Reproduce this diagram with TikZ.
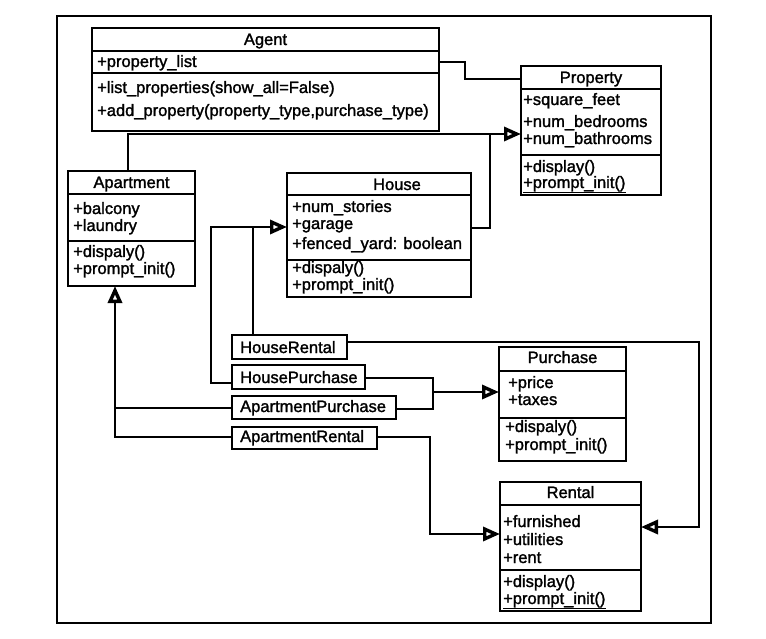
\documentclass[tikz,border=0pt]{standalone}
\usepackage{fontspec}
\setmainfont{Liberation Sans}
\newfontfamily\umlfont{Liberation Sans}[FakeBold=1.6]
\usetikzlibrary{arrows.meta}
\begin{document}
\begin{tikzpicture}[x=1pt,y=-1pt,
  umlbox/.style={draw,line width=1.7pt,inner sep=0pt,outer sep=0pt,anchor=north west},
  divider/.style={line width=1.7pt},
  txt/.style={anchor=base west,inner sep=0pt,font=\umlfont\fontsize{16.5}{18}\selectfont},
  ttl/.style={anchor=base,inner sep=0pt,font=\umlfont\fontsize{16.5}{18}\selectfont},
  conn/.style={line width=1.7pt},
  gentip/.tip={Triangle[open,length=17pt,width=14pt,line width=3.4pt]},
  gen/.style={conn,-gentip},
  uline/.style={line width=1.1pt}
]
\useasboundingbox (0,0) rectangle (766,639);
% frame
\node[umlbox,minimum width=654pt,minimum height=607pt] (frame) at (57,16) {};

% Agent
\node[umlbox,minimum width=347pt,minimum height=103pt] (agent) at (92,28) {};
\draw[divider] (agent.west |- 0,51) -- (agent.east |- 0,51);
\draw[divider] (agent.west |- 0,73) -- (agent.east |- 0,73);
\node[ttl] (agentT) at (265.5,45) {Agent};
\node[txt] (agentA) at (97,67) {+property\_list};
\node[txt] (agentM1) at (97,93) {+list\_properties(show\_all=False)};
\node[txt] (agentM2) at (97,116) {+add\_property(property\_type,purchase\_type)};

% Property
\node[umlbox,minimum width=140pt,minimum height=129pt] (property) at (521,66) {};
\draw[divider] (property.west |- 0,89) -- (property.east |- 0,89);
\draw[divider] (property.west |- 0,155) -- (property.east |- 0,155);
\node[ttl] (propertyT) at (591,83) {Property};
\node[txt] (propertyA1) at (523,105) {+square\_feet};
\node[txt] (propertyA2) at (523,127) {+num\_bedrooms};
\node[txt] (propertyA3) at (523,144) {+num\_bathrooms};
\node[txt] (propertyM1) at (523,172) {+display()};
\node[txt] (propertyM2) at (523,188) {+prompt\_init()};
\draw[uline] (propertyM2.base west |- 0,192.5) -- (propertyM2.base east |- 0,192.5);

% Apartment
\node[umlbox,minimum width=127pt,minimum height=115pt] (apartment) at (68,171) {};
\draw[divider] (apartment.west |- 0,194) -- (apartment.east |- 0,194);
\draw[divider] (apartment.west |- 0,241) -- (apartment.east |- 0,241);
\node[ttl] (apartmentT) at (131.5,188) {Apartment};
\node[txt] (apartmentA1) at (73,214) {+balcony};
\node[txt] (apartmentA2) at (73,231) {+laundry};
\node[txt] (apartmentM1) at (73,257) {+dispaly()};
\node[txt] (apartmentM2) at (73,274) {+prompt\_init()};

% House
\node[umlbox,minimum width=184pt,minimum height=124pt] (house) at (287,173) {};
\draw[divider] (house.west |- 0,195) -- (house.east |- 0,195);
\draw[divider] (house.west |- 0,260) -- (house.east |- 0,260);
\node[ttl] (houseT) at (397,190) {House};
\node[txt] (houseA1) at (292,212) {+num\_stories};
\node[txt] (houseA2) at (292,229) {+garage};
\node[txt] (houseA3) at (292,249) {+fenced\_yard: boolean};
\node[txt] (houseM1) at (292,273) {+dispaly()};
\node[txt] (houseM2) at (292,290) {+prompt\_init()};

% Purchase
\node[umlbox,minimum width=127pt,minimum height=114pt] (purchase) at (499,347) {};
\draw[divider] (purchase.west |- 0,371) -- (purchase.east |- 0,371);
\draw[divider] (purchase.west |- 0,418) -- (purchase.east |- 0,418);
\node[ttl] (purchaseT) at (562.5,363) {Purchase};
\node[txt] (purchaseA1) at (508,388) {+price};
\node[txt] (purchaseA2) at (508,405) {+taxes};
\node[txt] (purchaseM1) at (505,432) {+dispaly()};
\node[txt] (purchaseM2) at (505,450) {+prompt\_init()};

% Rental
\node[umlbox,minimum width=141pt,minimum height=129pt] (rental) at (500,482) {};
\draw[divider] (rental.west |- 0,505) -- (rental.east |- 0,505);
\draw[divider] (rental.west |- 0,570) -- (rental.east |- 0,570);
\node[ttl] (rentalT) at (570.5,498) {Rental};
\node[txt] (rentalA1) at (503,527) {+furnished};
\node[txt] (rentalA2) at (503,545) {+utilities};
\node[txt] (rentalA3) at (503,563) {+rent};
\node[txt] (rentalM1) at (503,587) {+display()};
\node[txt] (rentalM2) at (503,604) {+prompt\_init()};
\draw[uline] (rentalM2.base west |- 0,608.5) -- (rentalM2.base east |- 0,608.5);

% small boxes
\node[umlbox,minimum width=115pt,minimum height=24pt] (houserental) at (232,335) {};
\node[txt] (houserentalT) at (240,353) {HouseRental};
\node[umlbox,minimum width=133pt,minimum height=24pt] (housepurchase) at (232,365) {};
\node[txt] (housepurchaseT) at (240,383) {HousePurchase};
\node[umlbox,minimum width=164pt,minimum height=23pt] (apartmentpurchase) at (232,396) {};
\node[txt] (apartmentpurchaseT) at (240,412) {ApartmentPurchase};
\node[umlbox,minimum width=145pt,minimum height=22pt] (apartmentrental) at (232,427) {};
\node[txt] (apartmentrentalT) at (240,442) {ApartmentRental};

% connectors
\draw[conn] (agent.east |- 0,62) -- (465,62) |- (property.west |- 0,79);
\draw[gen] (apartment.north -| 128,0) |- (property.west |- 0,134);
\draw[conn] (house.east |- 0,228) -| (490,134);

\draw[gen] (houserental.north -| 253,0) |- (house.west |- 0,227);
\draw[conn] (housepurchase.west |- 0,383) -| (211,227) -- (253,227);

\draw[gen] (houserental.east |- 0,342) -- (699,342) |- (rental.east |- 0,527);

\draw[conn] (housepurchase.east |- 0,378) -| (433,409) -- (apartmentpurchase.east |- 0,409);
\draw[gen] (433,392) -- (purchase.west |- 0,392);

\draw[gen] (apartmentrental.west |- 0,437) -| (apartment.south -| 115,0);
\draw[conn] (apartmentpurchase.west |- 0,408) -- (115,408);

\draw[gen] (apartmentrental.east |- 0,437) -| (430,534) -- (rental.west |- 0,534);
\end{tikzpicture}
\end{document}
